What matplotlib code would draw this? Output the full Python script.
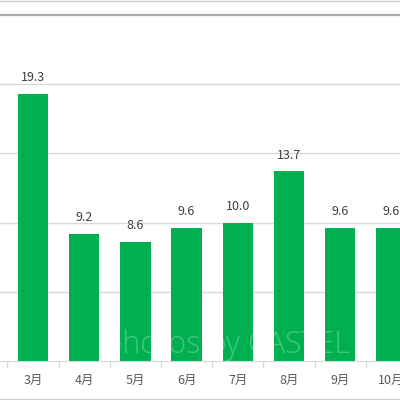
import matplotlib
matplotlib.use("Agg")
import matplotlib.pyplot as plt
from matplotlib.lines import Line2D
import numpy as np

plt.rcParams['font.family'] = ['Noto Sans CJK JP', 'DejaVu Sans']

months = ["3月", "4月", "5月", "6月", "7月", "8月", "9月", "10月"]
values = [19.3, 9.2, 8.6, 9.6, 10.0, 13.7, 9.6, 9.6]
value_labels = ["19.3", "9.2", "8.6", "9.6", "10.0", "13.7", "9.6", "9.6"]

fig = plt.figure(figsize=(4, 4), dpi=100)
ax = fig.add_axes([0, 39/400, 1, 346/400])

x = np.arange(len(months))
ax.bar(x, values, width=0.59, color="#00B050", zorder=2)

for xi, v, lab in zip(x, values, value_labels):
    ax.annotate(lab, (xi, v), xytext=(0, 7), textcoords="offset points",
                ha="center", va="bottom", fontsize=9, color="#404040")

ax.set_yticks([5, 10, 15, 20])
ax.yaxis.grid(True, color="#d9d9d9", lw=1, zorder=0)
ax.tick_params(axis="y", left=False, labelleft=False)

ax.set_xticks(x)
ax.set_xticklabels(months, fontsize=9, color="#595959")
ax.tick_params(axis="x", which="major", length=0, pad=9)
ax.set_xticks(np.arange(-0.5, len(months) + 0.5, 1), minor=True)
ax.tick_params(axis="x", which="minor", length=5, color="#d9d9d9", width=1)

ax.set_xlim(-33/51.2, (400-33)/51.2)
ax.set_ylim(0, 25)

for s in ["left", "right"]:
    ax.spines[s].set_visible(False)
ax.spines["bottom"].set_color("#d9d9d9")
ax.spines["top"].set_color("#ababab")
ax.spines["top"].set_linewidth(1.6)

ax.text(0.26, 0.0, "photos by CASTEL", transform=ax.transAxes,
        fontsize=22, color="white", alpha=0.28, ha="left", va="bottom",
        fontweight="light", family=["Open Sans", "DejaVu Sans"], zorder=3)

fig.add_artist(Line2D([0, 1], [0.9985, 0.9985], transform=fig.transFigure,
                      color="#d0d0d0", lw=1))
fig.add_artist(Line2D([0, 1], [0.0025, 0.0025], transform=fig.transFigure,
                      color="#d0d0d0", lw=1))

fig.savefig("out.png", dpi=100)
